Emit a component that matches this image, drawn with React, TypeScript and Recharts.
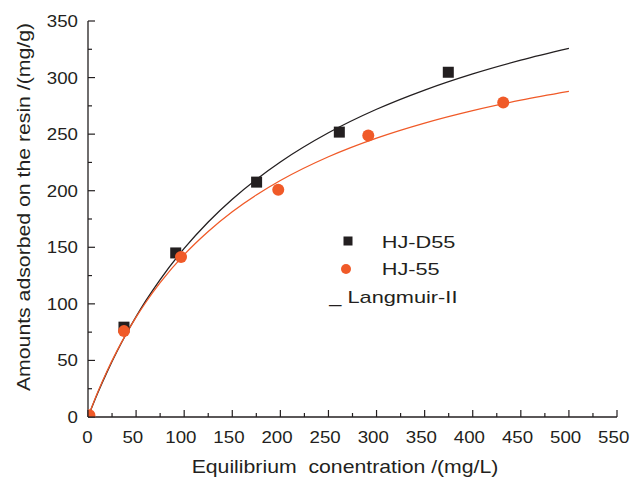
import React from "react";
import { ComposedChart, XAxis, YAxis, Line, Scatter, Legend } from "recharts";

// ---- data ----
const d55X = [37.4, 91.2, 175.3, 261.3, 374.6];
const d55Y = [79.4, 145, 207.6, 251.8, 304.7];
const h55X = [1.5, 37.4, 96.7, 197.8, 291.4, 431.7];
const h55Y = [1.5, 75.9, 141.5, 200.9, 248.9, 278];

const curveX = [0, 10, 20, 30, 40, 50, 60, 75, 100, 125, 150, 175, 200, 250, 300, 350, 400, 450, 500];
const curveD55 = [0, 21.0, 40.1, 57.7, 73.8, 88.7, 102.6, 121.5, 149.0, 172.4, 192.5, 210.0, 225.4, 251.2, 272.0, 289.0, 303.3, 315.4, 325.8];
const curveH55 = [0, 21.6, 40.9, 58.2, 73.9, 88.2, 101.2, 118.7, 143.5, 164.0, 181.4, 196.2, 209.0, 230.0, 246.5, 259.8, 270.8, 280.0, 287.8];

const xTicks = [0, 25, 50, 75, 100, 125, 150, 175, 200, 225, 250, 275, 300, 325, 350, 375, 400, 425, 450, 475, 500, 525, 550];
const yTicks = [0, 25, 50, 75, 100, 125, 150, 175, 200, 225, 250, 275, 300, 325, 350];

const seriesNames = ["HJ-D55", "HJ-55", "Langmuir-II"];
const xLabel = "Equilibrium  conentration /(mg/L)";
const yLabel = "Amounts adsorbed on the resin /(mg/g)";

const INK = "#231f20";
const ORANGE = "#f05a28";
const FONT = "'Liberation Sans', Arial, sans-serif";

const d55Data = d55X.map((x, i) => ({ x, y: d55Y[i] }));
const h55Data = h55X.map((x, i) => ({ x, y: h55Y[i] }));
const lineD55 = curveX.map((x, i) => ({ x, y: curveD55[i] }));
const lineH55 = curveX.map((x, i) => ({ x, y: curveH55[i] }));

// text that is stretched horizontally like the reference's lettering
const WideText = (p: any) => {
  const { x, y, sx, size, anchor, children, rotate } = p;
  const tf = rotate
    ? `translate(${x},${y}) rotate(${rotate}) scale(${sx},1)`
    : `translate(${x},${y}) scale(${sx},1)`;
  return (
    <text
      transform={tf}
      x={0}
      y={0}
      textAnchor={anchor || "start"}
      fontSize={size}
      fill={INK}
      fontFamily={FONT}
      style={{ whiteSpace: "pre" }}
    >
      {children}
    </text>
  );
};

const XTick = (props: any) => {
  const { x, y, payload } = props;
  const v = payload.value;
  const major = v % 50 === 0;
  return (
    <g>
      <line x1={x} x2={x} y1={y} y2={y - (major ? 7 : 4)} stroke={INK} strokeWidth={1.2} />
      {major && (
        <WideText x={x - (v === 0 ? 0.5 : 3.3)} y={y + 26} sx={1.1} size={17} anchor="middle">
          {String(v)}
        </WideText>
      )}
    </g>
  );
};

const YTick = (props: any) => {
  const { x, y, payload } = props;
  const v = payload.value;
  const major = v % 50 === 0;
  return (
    <g>
      <line x1={x} x2={x + (major ? 7 : 4)} y1={y} y2={y} stroke={INK} strokeWidth={1.2} />
      {major && (
        <WideText x={x - 10} y={y + 6} sx={1.1} size={17} anchor="end">
          {String(v)}
        </WideText>
      )}
    </g>
  );
};

const Square = (props: any) => {
  const { cx, cy } = props;
  const s = 11;
  return <rect x={cx - s / 2} y={cy - s / 2} width={s} height={s} fill={INK} />;
};

const Dot = (props: any) => {
  const { cx, cy } = props;
  return <circle cx={cx} cy={cy} r={6} fill={ORANGE} />;
};

const renderLegend = () => (
  <svg width={200} height={95} style={{ overflow: "visible" }}>
    <rect x={23.5} y={16.5} width={9} height={9} fill={INK} />
    <WideText x={61.7} y={28.3} sx={1.28} size={17}>{seriesNames[0]}</WideText>
    <circle cx={26} cy={49} r={5} fill={ORANGE} />
    <WideText x={61.7} y={55} sx={1.28} size={17}>{seriesNames[1]}</WideText>
    <WideText x={9.3} y={83.3} sx={1.28} size={17}>{"_ " + seriesNames[2]}</WideText>
  </svg>
);

export default function App() {
  return (
    <div style={{ position: "absolute", left: 0, top: 0, width: 630, height: 478, background: "#fff" }}>
      <ComposedChart width={630} height={478} margin={{ top: 21, right: 13, bottom: 0, left: 0 }}>
        <XAxis
          type="number"
          dataKey="x"
          domain={[0, 550]}
          ticks={xTicks}
          interval={0}
          height={61}
          tickSize={0}
          tickMargin={0}
          tickLine={false}
          tick={<XTick />}
          axisLine={{ stroke: INK, strokeWidth: 1.3 }}
          allowDataOverflow
        />
        <YAxis
          type="number"
          dataKey="y"
          domain={[0, 350]}
          ticks={yTicks}
          interval={0}
          width={88}
          tickSize={0}
          tickMargin={0}
          tickLine={false}
          tick={<YTick />}
          axisLine={{ stroke: INK, strokeWidth: 1.3 }}
          allowDataOverflow
        />
        <Legend
          content={renderLegend}
          layout="horizontal"
          verticalAlign="middle"
          align="center"
          wrapperStyle={{ position: "absolute", left: 320, top: 220, width: 200, height: 95 }}
        />
        <Line
          data={lineD55}
          dataKey="y"
          type="monotone"
          stroke={INK}
          strokeWidth={1.3}
          dot={false}
          activeDot={false}
          isAnimationActive={false}
          legendType="none"
        />
        <Line
          data={lineH55}
          dataKey="y"
          type="monotone"
          stroke={ORANGE}
          strokeWidth={1.3}
          dot={false}
          activeDot={false}
          isAnimationActive={false}
          legendType="none"
        />
        <Scatter data={d55Data} dataKey="y" shape={<Square />} isAnimationActive={false} name={seriesNames[0]} />
        <Scatter data={h55Data} dataKey="y" shape={<Dot />} isAnimationActive={false} name={seriesNames[1]} />
      </ComposedChart>
      <svg
        width={630}
        height={478}
        style={{ position: "absolute", left: 0, top: 0, pointerEvents: "none" }}
      >
        <WideText x={345} y={473} sx={1.18} size={18} anchor="middle">
          {xLabel}
        </WideText>
        <WideText x={30} y={207} sx={1.18} size={18} anchor="middle" rotate={-90}>
          {yLabel}
        </WideText>
      </svg>
    </div>
  );
}
